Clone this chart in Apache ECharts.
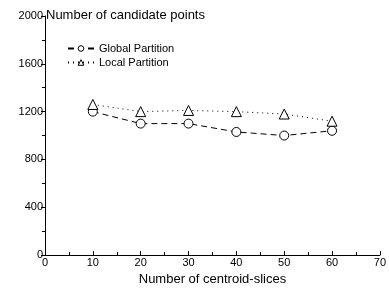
<!DOCTYPE html>
<html>
<head>
<meta charset="utf-8">
<script src="https://cdn.jsdelivr.net/npm/echarts@6/dist/echarts.min.js"></script>
<style>
  html, body { margin: 0; padding: 0; background: #fff; }
  #chart { width: 389px; height: 291px; }
</style>
</head>
<body>
<div id="chart"></div>
<script>
const slices = [10, 20, 30, 40, 50, 60];
const globalPartition = [1200, 1100, 1100, 1030, 1000, 1040];
const localPartition = [1260, 1200, 1210, 1200, 1180, 1120];

const font = 'Liberation Sans, Arial, sans-serif';

const chart = echarts.init(document.getElementById('chart'));
chart.setOption({
    animation: false,
    textStyle: { fontFamily: font },
    title: {
        text: 'Number of candidate points',
        left: 46,
        top: 9,
        padding: 0,
        textStyle: { fontSize: 13, fontWeight: 'normal', color: '#000', fontFamily: font }
    },
    grid: { left: 45, right: 7, top: 16, bottom: 33 },
    legend: {
        left: 62,
        top: 38,
        orient: 'vertical',
        itemGap: 3,
        itemWidth: 26,
        itemHeight: 7,
        itemStyle: { borderWidth: 1 },
        textStyle: { fontSize: 11, color: '#000', fontFamily: font },
        data: ['Global Partition', 'Local Partition']
    },
    xAxis: {
        type: 'value',
        min: 0,
        max: 70,
        interval: 10,
        name: 'Number of centroid-slices',
        nameLocation: 'middle',
        nameGap: 16,
        nameTextStyle: { fontSize: 13, color: '#000' },
        axisLine: { lineStyle: { color: '#000', width: 1 } },
        axisTick: { show: true, length: 4, inside: true, lineStyle: { color: '#000' } },
        minorTick: { show: true, splitNumber: 2, length: 3, lineStyle: { color: '#000' } },
        axisLabel: { fontSize: 11, color: '#000', margin: 2 },
        splitLine: { show: false }
    },
    yAxis: {
        type: 'value',
        min: 0,
        max: 2000,
        interval: 400,
        axisLine: { show: true, lineStyle: { color: '#000', width: 1 } },
        axisTick: { show: true, length: 4, lineStyle: { color: '#000' } },
        minorTick: { show: true, splitNumber: 2, length: 3, lineStyle: { color: '#000' } },
        axisLabel: { fontSize: 11, color: '#000', margin: 2, formatter: v => String(v) },
        splitLine: { show: false }
    },
    series: [
        {
            name: 'Global Partition',
            type: 'line',
            data: slices.map((x, i) => [x, globalPartition[i]]),
            symbol: 'circle',
            symbolSize: 9,
            itemStyle: { color: '#fff', borderColor: '#000', borderWidth: 1 },
            lineStyle: { color: '#000', width: 1, type: [6, 4] }
        },
        {
            name: 'Local Partition',
            type: 'line',
            data: slices.map((x, i) => [x, localPartition[i]]),
            symbol: 'triangle',
            symbolSize: 10,
            itemStyle: { color: '#fff', borderColor: '#000', borderWidth: 1 },
            lineStyle: { color: '#000', width: 1, type: [1, 4] }
        }
    ]
});
</script>
</body>
</html>
